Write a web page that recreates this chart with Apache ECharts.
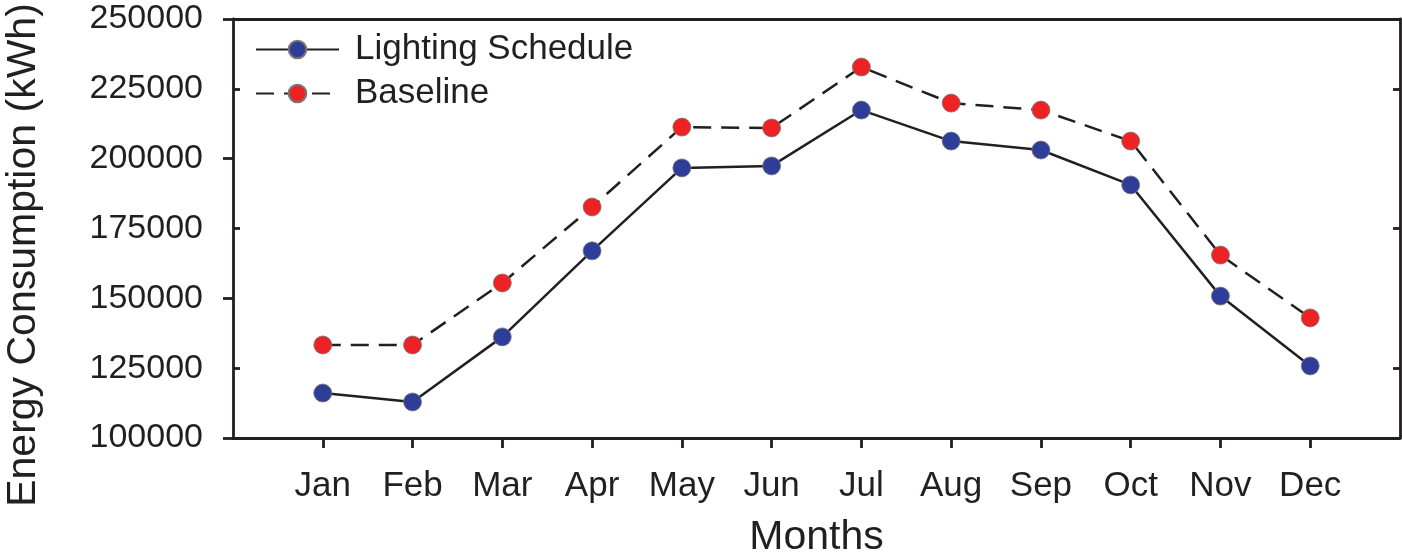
<!DOCTYPE html>
<html>
<head>
<meta charset="utf-8">
<script src="https://cdn.jsdelivr.net/npm/echarts@6/dist/echarts.min.js"></script>
<style>
html,body{margin:0;padding:0;background:#fff;}
#chart{width:1402px;height:560px;}
</style>
</head>
<body>
<div id="chart"></div>
<script>
const months = ['Jan','Feb','Mar','Apr','May','Jun','Jul','Aug','Sep','Oct','Nov','Dec'];
const lightingSchedule = [116100,112900,136200,167000,196700,197400,217400,206300,203100,190600,150800,125800];
const baseline = [133300,133300,155500,182700,211300,211000,232800,219900,217400,206300,165500,143000];
const yRange = {min:100000, max:250000, labelInterval:25000, majorInterval:50000};

const cats = [''].concat(months, ['']);
const font = 'Liberation Sans, Arial, Helvetica, sans-serif';
const ink = '#231f20';
const axisW = 2.8;

function yBase(extra){
  return Object.assign({type:'value', min:yRange.min, max:yRange.max, splitLine:{show:false}}, extra);
}

const chart = echarts.init(document.getElementById('chart'));
chart.setOption({
  animation:false,
  backgroundColor:'#fff',
  grid:{left:233, right:2, top:19, bottom:122, containLabel:false, outerBoundsMode:'none'},
  legend:{
    left:250, top:27, orient:'vertical',
    itemWidth:83, itemHeight:22, itemGap:9,
    textStyle:{fontFamily:font, fontSize:35, color:ink, padding:[0,0,0,11]},
    data:['Lighting Schedule','Baseline']
  },
  graphic:[{
    type:'text', x:24, y:255, rotation:Math.PI/2,
    style:{text:'Energy Consumption (kWh)', fontFamily:font, fontSize:41, fill:ink,
      align:'center', verticalAlign:'middle'}
  }],
  xAxis:[{
    type:'category', data:cats, boundaryGap:false,
    name:'Months', nameLocation:'middle', nameGap:79,
    nameTextStyle:{fontFamily:font, fontSize:41, color:ink},
    axisLine:{lineStyle:{color:ink, width:axisW}},
    axisTick:{show:true, length:10, lineStyle:{color:ink, width:axisW},
      interval:function(i){return i>0 && i<cats.length-1;}},
    axisLabel:{fontFamily:font, fontSize:35, color:ink, margin:31,
      interval:function(i){return i>0 && i<cats.length-1;}},
    splitLine:{show:false}
  },{
    type:'category', data:cats, boundaryGap:false, position:'top',
    axisLine:{lineStyle:{color:ink, width:axisW}},
    axisTick:{show:false}, axisLabel:{show:false}, splitLine:{show:false}
  }],
  yAxis:[
    yBase({position:'left', interval:yRange.labelInterval,
      axisLine:{show:true, lineStyle:{color:ink, width:axisW}},
      axisTick:{show:false},
      axisLabel:{fontFamily:font, fontSize:34, color:ink, margin:30, formatter:function(v){return String(v);}}}),
    yBase({position:'left', interval:yRange.majorInterval,
      axisLine:{show:false},
      axisTick:{show:true, inside:false, length:10, lineStyle:{color:ink, width:axisW}},
      axisLabel:{show:false}}),
    yBase({position:'left', interval:yRange.majorInterval,
      axisLine:{show:false},
      axisTick:{show:false, inside:true},
      minorTick:{show:true, splitNumber:2, length:7, lineStyle:{color:ink, width:axisW}},
      axisLabel:{show:false}}),
    yBase({position:'right', interval:yRange.majorInterval,
      axisLine:{show:true, lineStyle:{color:ink, width:axisW}},
      axisTick:{show:false, inside:true},
      minorTick:{show:true, splitNumber:2, length:7, lineStyle:{color:ink, width:axisW}},
      axisLabel:{show:false}})
  ],
  series:[{
    name:'Lighting Schedule', type:'line',
    data: months.map((m,i)=>[m, lightingSchedule[i]]),
    symbol:'circle', symbolSize:18,
    itemStyle:{color:'#2e3d98', borderColor:'#777', borderWidth:0.8},
    lineStyle:{color:ink, width:2.5, type:'solid'},
    z:3
  },{
    name:'Baseline', type:'line',
    data: months.map((m,i)=>[m, baseline[i]]),
    symbol:'circle', symbolSize:18,
    itemStyle:{color:'#ed2224', borderColor:'#777', borderWidth:0.8},
    lineStyle:{color:ink, width:2.5, type:[18,10]},
    z:3
  }]
});
</script>
</body>
</html>
